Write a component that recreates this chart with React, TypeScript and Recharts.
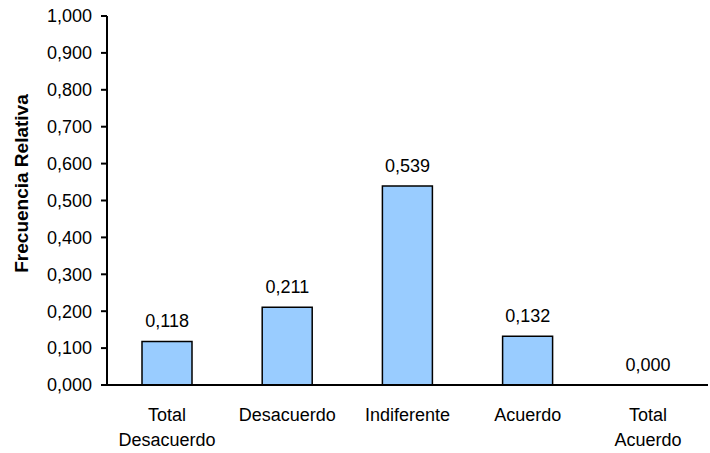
import React from 'react';
import { ComposedChart, Bar, Line, XAxis, YAxis, LabelList } from 'recharts';

const categories = ['Total\nDesacuerdo', 'Desacuerdo', 'Indiferente', 'Acuerdo', 'Total\nAcuerdo'];
const frecuencia = [0.118, 0.211, 0.539, 0.132, 0.0];
const yTicks = [0, 0.1, 0.2, 0.3, 0.4, 0.5, 0.6, 0.7, 0.8, 0.9, 1.0];
const boundaryTicks = [0, 1, 2, 3, 4, 5];

const data = categories.map((c, i) => ({ name: c, value: frecuencia[i], idx: i + 0.5 }));

const FONT = 'Liberation Sans, Arial, sans-serif';
const fmt = (v: number) => v.toFixed(3).replace('.', ',');

const CatTick = (props: any) => {
  const { x, y, payload } = props;
  const lines = String(payload.value).split('\n');
  return (
    <text x={x} y={y} textAnchor="middle" fontFamily={FONT} fontSize={18} fill="#000">
      {lines.map((l, i) => (
        <tspan key={i} x={x} dy={i === 0 ? 36 : 25}>{l}</tspan>
      ))}
    </text>
  );
};

const YLabel = (props: any) => {
  const vb = props.viewBox || { x: 0, y: 16, width: 107, height: 369 };
  const cx = vb.x + 28;
  const cy = vb.y + vb.height / 2 - 17;
  return (
    <text
      x={cx}
      y={cy}
      transform={`rotate(-90, ${cx}, ${cy})`}
      textAnchor="middle"
      fontFamily={FONT}
      fontSize={19}
      fontWeight="bold"
      fill="#000"
    >
      Frecuencia Relativa
    </text>
  );
};

export default function App() {
  return (
    <div style={{ position: 'absolute', left: 0, top: 0, background: '#fff' }}>
      <ComposedChart
        width={710}
        height={453}
        data={data}
        margin={{ top: 16, right: 2, bottom: 0, left: 0 }}
        barCategoryGap={0}
      >
        <XAxis
          xAxisId="ticks"
          type="number"
          dataKey="idx"
          domain={[0, 5]}
          ticks={boundaryTicks}
          tick={false}
          axisLine={false}
          tickLine={{ stroke: '#000', strokeWidth: 2 }}
          tickSize={6}
          height={0}
          orientation="bottom"
        />
        <XAxis
          dataKey="name"
          tick={<CatTick />}
          tickLine={false}
          tickSize={0}
          tickMargin={0}
          axisLine={{ stroke: '#000', strokeWidth: 2 }}
          height={68}
          interval={0}
        />
        <XAxis
          xAxisId="top"
          orientation="top"
          dataKey="name"
          tick={false}
          tickLine={false}
          axisLine={{ stroke: '#000', strokeWidth: 2 }}
          height={0}
        />
        <YAxis
          domain={[0, 1]}
          ticks={yTicks}
          tickFormatter={fmt}
          interval={0}
          width={107}
          tickSize={6}
          tickMargin={9}
          tick={{ fontFamily: FONT, fontSize: 18, fill: '#000' }}
          tickLine={{ stroke: '#000', strokeWidth: 2 }}
          axisLine={{ stroke: '#000', strokeWidth: 2 }}
          label={<YLabel />}
        />
        <YAxis
          yAxisId="right"
          orientation="right"
          domain={[0, 1]}
          width={0}
          tick={false}
          tickLine={false}
          axisLine={{ stroke: '#000', strokeWidth: 2 }}
        />
        <Bar
          dataKey="value"
          fill="#99CCFF"
          stroke="#000"
          strokeWidth={1.5}
          barSize={50}
          isAnimationActive={false}
        />
        <Line
          dataKey="value"
          stroke="none"
          dot={false}
          activeDot={false}
          isAnimationActive={false}
          legendType="none"
        >
          <LabelList
            dataKey="value"
            position="top"
            offset={14}
            formatter={(v: any) => fmt(Number(v))}
            style={{ fontFamily: FONT, fontSize: 18, fill: '#000' }}
          />
        </Line>
      </ComposedChart>
    </div>
  );
}
